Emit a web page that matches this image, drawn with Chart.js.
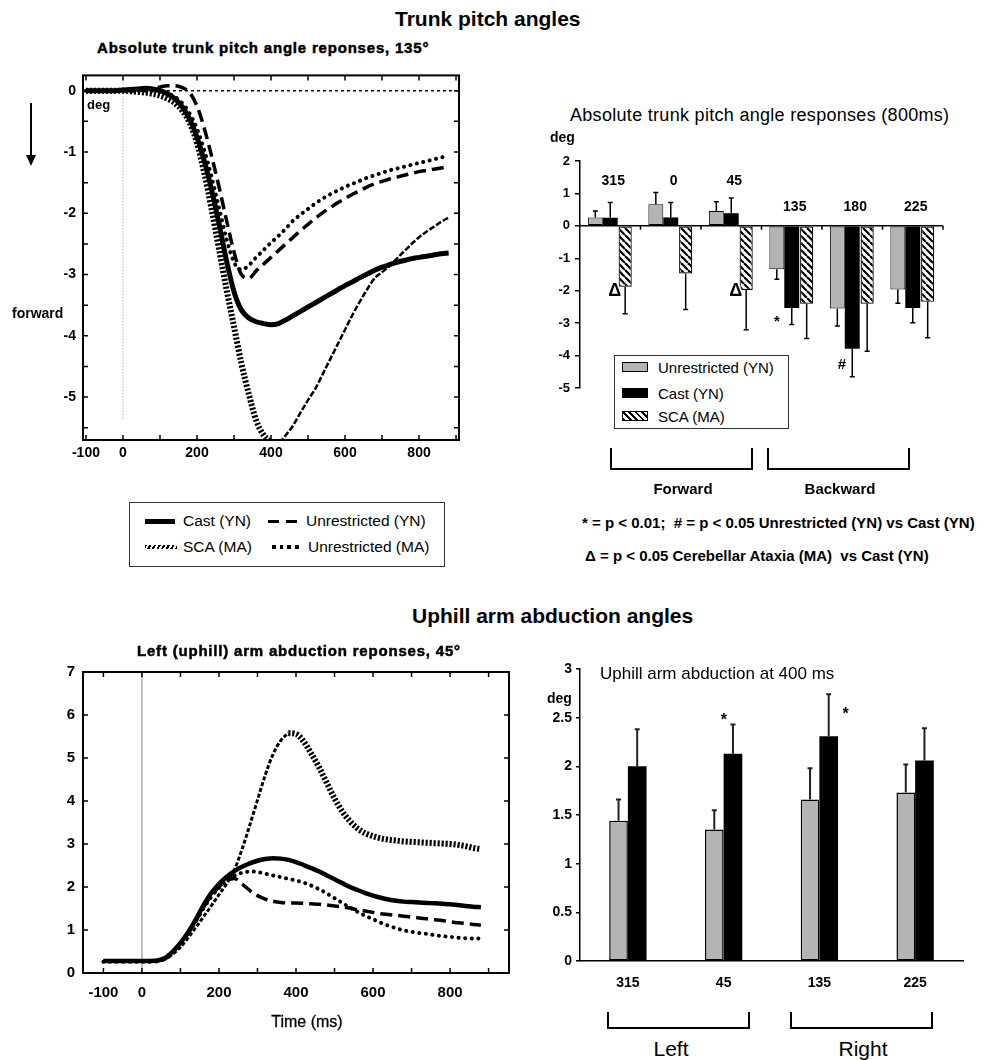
<!DOCTYPE html>
<html><head><meta charset="utf-8">
<script src="https://cdn.jsdelivr.net/npm/chart.js@4.4.1/dist/chart.umd.min.js"></script>
<style>
body{margin:0;background:#fff;}
#page{position:relative;width:994px;height:1060px;overflow:hidden;font-family:"Liberation Sans",Arial,sans-serif;color:#000;background:#fff;}
canvas{position:absolute;}
.t{position:absolute;white-space:nowrap;line-height:1;transform:translateY(-50%);}
.c{transform:translate(-50%,-50%);}
.b{font-weight:bold;}
.heavy{font-weight:bold;-webkit-text-stroke:0.5px #000;letter-spacing:0.8px;}
.box{position:absolute;border:1.5px solid #333;background:#fff;box-sizing:border-box;}
.sw{position:absolute;box-sizing:border-box;}
.br{position:absolute;border:2px solid #000;border-top:none;box-sizing:border-box;}
</style></head>
<body><div id="page">
<canvas id="c1" width="475" height="410" style="left:0px;top:60px;"></canvas>
<canvas id="c2" width="440" height="280" style="left:520px;top:130px;"></canvas>
<canvas id="c3" width="520" height="365" style="left:0px;top:655px;"></canvas>
<canvas id="c4" width="460" height="360" style="left:520px;top:640px;"></canvas>

<div class="t b" style="left:395px;top:18px;font-size:21px;">Trunk pitch angles</div>
<div class="t heavy" style="left:97px;top:47px;font-size:15px;">Absolute trunk pitch angle reponses, 135°</div>
<div style="position:absolute;left:30px;top:103px;width:2px;height:55px;background:#000;"></div>
<div style="position:absolute;left:26px;top:155px;width:0;height:0;border-left:5px solid transparent;border-right:5px solid transparent;border-top:11px solid #000;"></div>
<div class="t b" style="left:12px;top:313px;font-size:14px;">forward</div>
<div class="t b" style="left:87px;top:104px;font-size:13px;">deg</div>

<div class="box" style="left:129px;top:502px;width:316px;height:65px;"></div>
<div class="sw" style="left:145px;top:519px;width:30px;height:5px;background:#000;"></div>
<div class="t" style="left:183px;top:521px;font-size:15.5px;">Cast (YN)</div>
<div class="sw" style="left:268px;top:520px;width:30px;height:3px;background:repeating-linear-gradient(to right,#000 0 11px,transparent 11px 18px);"></div>
<div class="t" style="left:306px;top:521px;font-size:15.5px;">Unrestricted (YN)</div>
<div class="sw" style="left:145px;top:545px;width:32px;height:4px;background:repeating-linear-gradient(-60deg,#000 0 2px,transparent 2px 4px);"></div>
<div class="t" style="left:183px;top:547px;font-size:15.5px;">SCA (MA)</div>
<div class="sw" style="left:272px;top:545px;width:27px;height:4px;background:repeating-linear-gradient(to right,#000 0 4px,transparent 4px 7.5px);"></div>
<div class="t" style="left:308px;top:547px;font-size:15.5px;">Unrestricted (MA)</div>

<div class="t" style="left:570px;top:115px;font-size:18px;letter-spacing:0.3px;">Absolute trunk pitch angle responses (800ms)</div>
<div class="t b" style="left:550px;top:137px;font-size:14px;">deg</div>
<div class="box" style="left:614px;top:355px;width:175px;height:74px;"></div>
<div class="sw" style="left:622px;top:362px;width:26px;height:10px;background:#b4b4b4;border:1.5px solid #000;"></div>
<div class="t" style="left:658px;top:367px;font-size:15px;">Unrestricted (YN)</div>
<div class="sw" style="left:622px;top:388px;width:26px;height:10px;background:#000;"></div>
<div class="t" style="left:658px;top:393px;font-size:15px;">Cast (YN)</div>
<div class="sw" style="left:622px;top:411px;width:26px;height:10px;border:1.5px solid #000;background:repeating-linear-gradient(45deg,#000 0 2px,#fff 2px 4.5px);"></div>
<div class="t" style="left:658px;top:416px;font-size:15px;">SCA (MA)</div>
<div class="br" style="left:610px;top:448px;width:143px;height:22px;"></div>
<div class="br" style="left:767px;top:448px;width:143px;height:22px;"></div>
<div class="t c b" style="left:683px;top:488px;font-size:15px;">Forward</div>
<div class="t c b" style="left:840px;top:488px;font-size:15px;">Backward</div>
<div class="t b" style="left:582px;top:522px;font-size:15px;">* = p &lt; 0.01;&nbsp; # = p &lt; 0.05 Unrestricted (YN) vs Cast (YN)</div>
<div class="t b" style="left:585px;top:555px;font-size:15px;">Δ = p &lt; 0.05 Cerebellar Ataxia (MA)&nbsp; vs Cast (YN)</div>

<div class="t b" style="left:412px;top:615px;font-size:21px;">Uphill arm abduction angles</div>
<div class="t heavy" style="left:137px;top:650px;font-size:15px;">Left (uphill) arm abduction reponses, 45°</div>
<div class="t c" style="left:307px;top:1022px;font-size:16px;-webkit-text-stroke:0.3px #000;">Time (ms)</div>
<div class="t" style="left:600px;top:673px;font-size:17px;">Uphill arm abduction at 400 ms</div>
<div class="t b" style="left:547px;top:698px;font-size:14px;">deg</div>
<div class="br" style="left:607px;top:1012px;width:143px;height:17px;"></div>
<div class="br" style="left:790px;top:1012px;width:143px;height:17px;"></div>
<div class="t c" style="left:671px;top:1048px;font-size:21px;">Left</div>
<div class="t c" style="left:863px;top:1048px;font-size:21px;">Right</div>
</div>
<script>
// ---------- data ----------
const time = [-100,-80,-60,-40,-20,0,20,40,60,80,100,120,140,160,180,200,220,240,260,280,300,320,340,360,380,400,420,440,460,480,500,520,540,560,580,600,620,640,660,680,700,720,740,760,780,800,820,840,860,880];
const timeTicks = [-100,0,100,200,300,400,500,600,700,800,900];
const timeTickLabels = ['-100','0','','200','','400','','600','','800',''];

// Trunk pitch, 135 deg
const pitchCastYN = [0,0,0,0,0,0.01,0.02,0.03,0.04,0.03,0,-0.05,-0.13,-0.26,-0.46,-0.76,-1.15,-1.63,-2.18,-2.78,-3.28,-3.58,-3.71,-3.77,-3.8,-3.82,-3.8,-3.74,-3.67,-3.6,-3.53,-3.46,-3.39,-3.32,-3.25,-3.18,-3.12,-3.05,-2.99,-2.93,-2.88,-2.84,-2.8,-2.77,-2.74,-2.72,-2.7,-2.68,-2.66,-2.65];
const pitchUnrYN = [0,0,0,0,0,0,0,0,0.02,0.04,0.06,0.08,0.08,0.05,-0.03,-0.25,-0.62,-1.08,-1.58,-2.12,-2.63,-3.0,-3.06,-2.94,-2.83,-2.72,-2.61,-2.5,-2.39,-2.28,-2.18,-2.08,-1.99,-1.91,-1.83,-1.76,-1.69,-1.63,-1.57,-1.52,-1.48,-1.44,-1.41,-1.38,-1.35,-1.32,-1.3,-1.28,-1.26,-1.24];
const pitchUnrMA = [0,0,0,0,0,0,0,0,0,0,-0.01,-0.04,-0.1,-0.2,-0.37,-0.62,-0.98,-1.42,-1.92,-2.42,-2.8,-2.92,-2.85,-2.72,-2.6,-2.48,-2.37,-2.25,-2.12,-2.02,-1.93,-1.84,-1.76,-1.69,-1.63,-1.57,-1.52,-1.47,-1.42,-1.38,-1.34,-1.3,-1.27,-1.24,-1.21,-1.18,-1.15,-1.12,-1.09,-1.06];
const pitchScaMA = [0,0,0,0,0,0,-0.01,-0.02,-0.03,-0.05,-0.08,-0.13,-0.2,-0.32,-0.52,-0.85,-1.35,-1.95,-2.6,-3.25,-3.85,-4.45,-4.95,-5.38,-5.62,-5.74,-5.74,-5.62,-5.46,-5.25,-5.05,-4.86,-4.62,-4.38,-4.14,-3.9,-3.66,-3.44,-3.24,-3.06,-2.96,-2.86,-2.74,-2.62,-2.5,-2.39,-2.3,-2.22,-2.14,-2.07];

// Left arm abduction, 45 deg
const armCastYN = [0.28,0.28,0.28,0.28,0.28,0.28,0.28,0.29,0.35,0.5,0.7,0.95,1.25,1.58,1.86,2.07,2.24,2.37,2.47,2.55,2.61,2.65,2.67,2.66,2.63,2.58,2.51,2.44,2.36,2.27,2.18,2.09,2.0,1.93,1.86,1.8,1.75,1.71,1.68,1.66,1.65,1.64,1.63,1.62,1.61,1.6,1.58,1.56,1.54,1.53];
const armUnrYN = [0.28,0.28,0.28,0.28,0.28,0.28,0.28,0.29,0.34,0.48,0.68,0.93,1.22,1.53,1.8,2.0,2.15,2.2,2.07,1.92,1.8,1.72,1.67,1.64,1.63,1.63,1.62,1.61,1.6,1.58,1.56,1.54,1.51,1.47,1.44,1.41,1.38,1.36,1.34,1.32,1.3,1.28,1.26,1.24,1.22,1.19,1.17,1.15,1.13,1.11];
const armUnrMA = [0.26,0.26,0.26,0.26,0.26,0.26,0.26,0.27,0.33,0.47,0.67,0.92,1.2,1.5,1.77,1.98,2.14,2.26,2.33,2.36,2.35,2.31,2.27,2.23,2.19,2.15,2.1,2.03,1.95,1.85,1.74,1.63,1.52,1.42,1.33,1.25,1.17,1.1,1.04,0.99,0.96,0.93,0.91,0.88,0.86,0.84,0.82,0.81,0.8,0.8];
const armScaMA = [0.27,0.27,0.27,0.27,0.27,0.27,0.27,0.28,0.32,0.44,0.6,0.82,1.06,1.31,1.56,1.82,2.08,2.4,2.88,3.44,4.02,4.6,5.08,5.4,5.58,5.56,5.38,5.1,4.78,4.42,4.06,3.76,3.53,3.36,3.25,3.18,3.13,3.1,3.08,3.06,3.05,3.04,3.03,3.02,3.01,3.0,2.98,2.95,2.91,2.88];

// Trunk pitch at 800 ms
const dirPitch = ['315','0','45','135','180','225'];
const pitchBarUnrYN = [0.26,0.67,0.46,-1.34,-2.55,-1.96];
const pitchBarUnrYNErr = [0.2,0.36,0.28,0.31,0.54,0.43];
const pitchBarCastYN = [0.25,0.26,0.39,-2.53,-3.79,-2.53];
const pitchBarCastYNErr = [0.47,0.46,0.47,0.51,0.86,0.46];
const pitchBarScaMA = [-1.88,-1.47,-1.98,-2.4,-2.4,-2.34];
const pitchBarScaMAErr = [0.83,1.11,1.22,1.07,1.47,1.11];
const pitchMarks = [
  {sym:'Δ', cat:0, dsA:1, dsB:2, f:0.3, v:-2.02},
  {sym:'Δ', cat:2, dsA:1, dsB:2, f:0.3, v:-2.02},
  {sym:'*', cat:3, dsA:0, dsB:0, f:0, v:-2.88},
  {sym:'#', cat:4, dsA:0, dsB:1, f:0.3, v:-4.28}
];

// Uphill arm abduction at 400 ms
const dirArm = ['315','45','135','225'];
const armBarUnrYN = [1.44,1.35,1.66,1.73];
const armBarUnrYNErr = [0.22,0.2,0.32,0.29];
const armBarCastYN = [2.0,2.13,2.31,2.06];
const armBarCastYNErr = [0.38,0.3,0.43,0.33];
const armMarks = [
  {sym:'*', cat:1, ds:1, dx:-9, v:2.5},
  {sym:'*', cat:2, ds:1, dx:17, v:2.56}
];

// ---------- helpers ----------
Chart.defaults.font.family = '"Liberation Sans", Arial, sans-serif';
Chart.defaults.color = '#000';
const FONT = {family:'"Liberation Sans", Arial, sans-serif', size:14, weight:'bold'};

function pts(arr, from, to){
  return time.map((t,i)=>({x:t, y:(from===undefined || (i>=from && i<=to)) ? arr[i] : null}));
}
function lineDs(label, data, w, dash, cap){
  return {label, data, borderColor:'#000', borderWidth:w, borderDash:dash||[], borderCapStyle:cap||'butt',
    pointRadius:0, fill:false, cubicInterpolationMode:'monotone', spanGaps:false};
}
const hatch = (()=>{
  const c=document.createElement('canvas'); c.width=7; c.height=7;
  const g=c.getContext('2d'); g.fillStyle='#fff'; g.fillRect(0,0,7,7);
  g.strokeStyle='#000'; g.lineWidth=2.2;
  [-7,0,7].forEach(k=>{g.beginPath(); g.moveTo(k,0); g.lineTo(k+7,7); g.stroke();});
  return g.createPattern(c,'repeat');
})();

const framePlugin = {
  id:'frame',
  beforeDatasetsDraw(chart, args, o){
    const {ctx, chartArea:a, scales:{x,y}} = chart;
    ctx.save();
    (o.refs||[]).forEach(r=>{
      ctx.beginPath(); ctx.strokeStyle=r.color; ctx.lineWidth=r.w; ctx.setLineDash(r.dash||[]);
      if(r.axis==='x'){ const px=x.getPixelForValue(r.value);
        ctx.moveTo(px, r.from!==undefined? y.getPixelForValue(r.from):a.top);
        ctx.lineTo(px, r.to!==undefined? y.getPixelForValue(r.to):a.bottom);
      } else { const py=y.getPixelForValue(r.value);
        ctx.moveTo(a.left, py); ctx.lineTo(a.right, py); }
      ctx.stroke();
    });
    ctx.restore();
  },
  afterDraw(chart, args, o){
    const {ctx, chartArea:a, scales:{x,y}} = chart;
    ctx.save(); ctx.setLineDash([]); ctx.strokeStyle='#000';
    ctx.lineWidth=2; ctx.strokeRect(a.left, a.top, a.right-a.left, a.bottom-a.top);
    ctx.lineWidth=1.5; const L=5;
    ctx.beginPath();
    x.ticks.forEach(t=>{
      const px=x.getPixelForValue(t.value);
      ctx.moveTo(px,a.top); ctx.lineTo(px,a.top+L); ctx.moveTo(px,a.bottom); ctx.lineTo(px,a.bottom-L);
    });
    for(let v=Math.ceil(y.min/o.yStep)*o.yStep; v<=y.max+1e-9; v+=o.yStep){
      const py=y.getPixelForValue(v);
      ctx.moveTo(a.left,py); ctx.lineTo(a.left+L,py); ctx.moveTo(a.right,py); ctx.lineTo(a.right-L,py);
    }
    ctx.stroke(); ctx.restore();
  }
};

const errPlugin = {
  id:'errbars',
  afterDatasetsDraw(chart, args, o){
    const {ctx, scales:{y}} = chart;
    ctx.save(); ctx.strokeStyle=o.color||'#000'; ctx.lineWidth=o.w||1.5;
    chart.data.datasets.forEach((ds,i)=>{
      if(!ds.errors) return;
      chart.getDatasetMeta(i).data.forEach((bar,j)=>{
        const v=ds.data[j], e=ds.errors[j];
        const end = v>=0 ? v+e : v-e;
        const y1=y.getPixelForValue(v), y2=y.getPixelForValue(end);
        ctx.beginPath(); ctx.moveTo(bar.x,y1); ctx.lineTo(bar.x,y2);
        ctx.moveTo(bar.x-2.5,y2); ctx.lineTo(bar.x+2.5,y2); ctx.stroke();
      });
    });
    ctx.restore();
  }
};

function timeAxis(min, max, pad, size, h){
  return {type:'linear', min, max,
    afterBuildTicks(s){ s.ticks = timeTicks.map(v=>({value:v})); },
    ticks:{autoSkip:false, maxRotation:0, minRotation:0, padding:pad, font:{...FONT, size},
      callback:(v,i)=>timeTickLabels[i]},
    grid:{display:false, drawTicks:false}, border:{display:false},
    afterFit(s){ s.height=h; }};
}

// ---------- Chart 1: trunk pitch curves ----------
const scaMinIdx = pitchScaMA.indexOf(Math.min(...pitchScaMA));
new Chart(document.getElementById('c1'), {
  type:'line',
  data:{datasets:[
    lineDs('Cast (YN)', pts(pitchCastYN), 5),
    lineDs('Unrestricted (YN)', pts(pitchUnrYN), 3.5, [12,6]),
    lineDs('Unrestricted (MA)', pts(pitchUnrMA), 4, [0.1,6.5], 'round'),
    lineDs('SCA (MA)', pts(pitchScaMA,0,scaMinIdx), 6, [2.2,1.8]),
    lineDs('SCA (MA) ', pts(pitchScaMA,scaMinIdx,time.length-1), 2.5, [6,2])
  ]},
  options:{
    responsive:false, animation:false, devicePixelRatio:1,
    layout:{padding:{left:0,top:15,right:16,bottom:6}},
    plugins:{legend:{display:false}, tooltip:{enabled:false},
      frame:{yStep:0.5, refs:[
        {axis:'y', value:0, color:'#000', w:1.5, dash:[3,3]},
        {axis:'x', value:0, to:-5.35, color:'#888', w:1, dash:[1,2]}
      ]}},
    scales:{
      x:timeAxis(-108, 908, 5, 14, 24),
      y:{type:'linear', min:-5.7, max:0.25,
        ticks:{stepSize:1, includeBounds:false, padding:7, font:FONT},
        grid:{display:false, drawTicks:false}, border:{display:false},
        afterFit(s){ s.width=83; }}
    }
  },
  plugins:[framePlugin]
});

// ---------- Chart 3: arm abduction curves ----------
const scaMaxIdx = armScaMA.indexOf(Math.max(...armScaMA));
new Chart(document.getElementById('c3'), {
  type:'line',
  data:{datasets:[
    lineDs('Cast (YN)', pts(armCastYN), 4.5),
    lineDs('Unrestricted (YN)', pts(armUnrYN), 3.5, [12,6]),
    lineDs('Unrestricted (MA)', pts(armUnrMA), 4, [0.1,6.5], 'round'),
    lineDs('SCA (MA)', pts(armScaMA,0,scaMaxIdx), 3, [4,2]),
    lineDs('SCA (MA) ', pts(armScaMA,scaMaxIdx,time.length-1), 6, [2.2,1.8])
  ]},
  options:{
    responsive:false, animation:false, devicePixelRatio:1,
    layout:{padding:{left:0,top:13,right:11,bottom:12}},
    plugins:{legend:{display:false}, tooltip:{enabled:false},
      frame:{yStep:1, refs:[
        {axis:'x', value:0, color:'#aaa', w:1.5}
      ]}},
    scales:{
      x:timeAxis(-153, 953, 11, 15, 35),
      y:{type:'linear', min:0, max:7,
        ticks:{stepSize:1, padding:8, font:{...FONT, size:15}},
        grid:{display:false, drawTicks:false}, border:{display:false},
        afterFit(s){ s.width=83; }}
    }
  },
  plugins:[framePlugin]
});

// ---------- Chart 2: trunk pitch bars ----------
const pitchAnno = {
  id:'pitchAnno',
  afterDraw(chart){
    const {ctx, chartArea:a, scales:{x,y}} = chart;
    ctx.save();
    const y0=y.getPixelForValue(0), w=x.getPixelForValue(1)-x.getPixelForValue(0);
    ctx.strokeStyle='#000'; ctx.lineWidth=1.5; ctx.beginPath();
    ctx.moveTo(a.left,y0); ctx.lineTo(a.right,y0);
    dirPitch.forEach((c,i)=>{ const px=x.getPixelForValue(i)+w/2; ctx.moveTo(px,y0); ctx.lineTo(px,y0+4); });
    ctx.stroke();
    ctx.font='bold 14px "Liberation Sans", Arial'; ctx.textAlign='center'; ctx.textBaseline='middle'; ctx.fillStyle='#000';
    dirPitch.forEach((c,i)=>{ ctx.fillText(c, x.getPixelForValue(i)+3, y.getPixelForValue(i<3?1.38:0.58)); });
    pitchMarks.forEach(m=>{
      const xa=chart.getDatasetMeta(m.dsA).data[m.cat].x, xb=chart.getDatasetMeta(m.dsB).data[m.cat].x;
      const px=xa+m.f*(xb-xa), py=y.getPixelForValue(m.v);
      ctx.font = m.sym==='Δ' ? 'bold 18px "Liberation Sans", Arial' : 'bold 15px "Liberation Sans", Arial';
      if(m.sym==='Δ'){ ctx.strokeStyle='#fff'; ctx.lineWidth=3; ctx.strokeText(m.sym,px,py); }
      ctx.fillText(m.sym,px,py+(m.sym==='*'?3:0));
    });
    ctx.restore();
  }
};
new Chart(document.getElementById('c2'), {
  type:'bar',
  data:{labels:dirPitch, datasets:[
    {label:'Unrestricted (YN)', data:pitchBarUnrYN, errors:pitchBarUnrYNErr, backgroundColor:'#b4b4b4', borderColor:'#000', borderWidth:1, borderSkipped:false, barPercentage:1, categoryPercentage:0.74},
    {label:'Cast (YN)', data:pitchBarCastYN, errors:pitchBarCastYNErr, backgroundColor:'#000', borderColor:'#000', borderWidth:0, barPercentage:1, categoryPercentage:0.74},
    {label:'SCA (MA)', data:pitchBarScaMA, errors:pitchBarScaMAErr, backgroundColor:hatch, borderColor:'#000', borderWidth:1.2, borderSkipped:false, barPercentage:0.88, categoryPercentage:0.74}
  ]},
  options:{
    responsive:false, animation:false, devicePixelRatio:1,
    layout:{padding:{left:0,top:31,right:17,bottom:22}},
    plugins:{legend:{display:false}, tooltip:{enabled:false}, errbars:{w:1.5}},
    scales:{
      x:{display:false},
      y:{min:-5, max:2, ticks:{stepSize:1, padding:5, font:{...FONT,size:13}},
        grid:{display:true, drawOnChartArea:false, drawTicks:true, tickLength:5, color:'#000', lineWidth:1.5},
        border:{display:true, color:'#000', width:1.5},
        afterFit(s){ s.width=60; }}
    }
  },
  plugins:[errPlugin, pitchAnno]
});

// ---------- Chart 4: arm abduction bars ----------
const armAnno = {
  id:'armAnno',
  afterDraw(chart){
    const {ctx, scales:{y}} = chart;
    ctx.save(); ctx.font='bold 16px "Liberation Sans", Arial'; ctx.textAlign='center'; ctx.textBaseline='middle'; ctx.fillStyle='#000';
    armMarks.forEach(m=>{
      const bar=chart.getDatasetMeta(m.ds).data[m.cat];
      ctx.fillText(m.sym, bar.x+m.dx, y.getPixelForValue(m.v)+3);
    });
    ctx.restore();
  }
};
new Chart(document.getElementById('c4'), {
  type:'bar',
  data:{labels:dirArm, datasets:[
    {label:'Unrestricted (YN)', data:armBarUnrYN, errors:armBarUnrYNErr, backgroundColor:'#b4b4b4', borderColor:'#000', borderWidth:1.5, borderSkipped:false, barPercentage:1, categoryPercentage:0.39},
    {label:'Cast (YN)', data:armBarCastYN, errors:armBarCastYNErr, backgroundColor:'#000', borderColor:'#000', borderWidth:0, barPercentage:1, categoryPercentage:0.39}
  ]},
  options:{
    responsive:false, animation:false, devicePixelRatio:1,
    layout:{padding:{left:0,top:29,right:17,bottom:0}},
    plugins:{legend:{display:false}, tooltip:{enabled:false}, errbars:{w:2, color:'#222'}},
    scales:{
      x:{ticks:{padding:14, font:FONT, maxRotation:0},
        grid:{display:false, drawTicks:false}, border:{display:true, color:'#000', width:1.5},
        afterFit(s){ s.height=39; }},
      y:{min:0, max:3, ticks:{stepSize:0.5, padding:4, font:FONT, callback:v=>String(v)},
        grid:{display:true, drawOnChartArea:false, drawTicks:true, tickLength:4, color:'#000', lineWidth:1.5},
        border:{display:true, color:'#000', width:1.5},
        afterFit(s){ s.width=60; }}
    }
  },
  plugins:[errPlugin, armAnno]
});
</script>
</body></html>
